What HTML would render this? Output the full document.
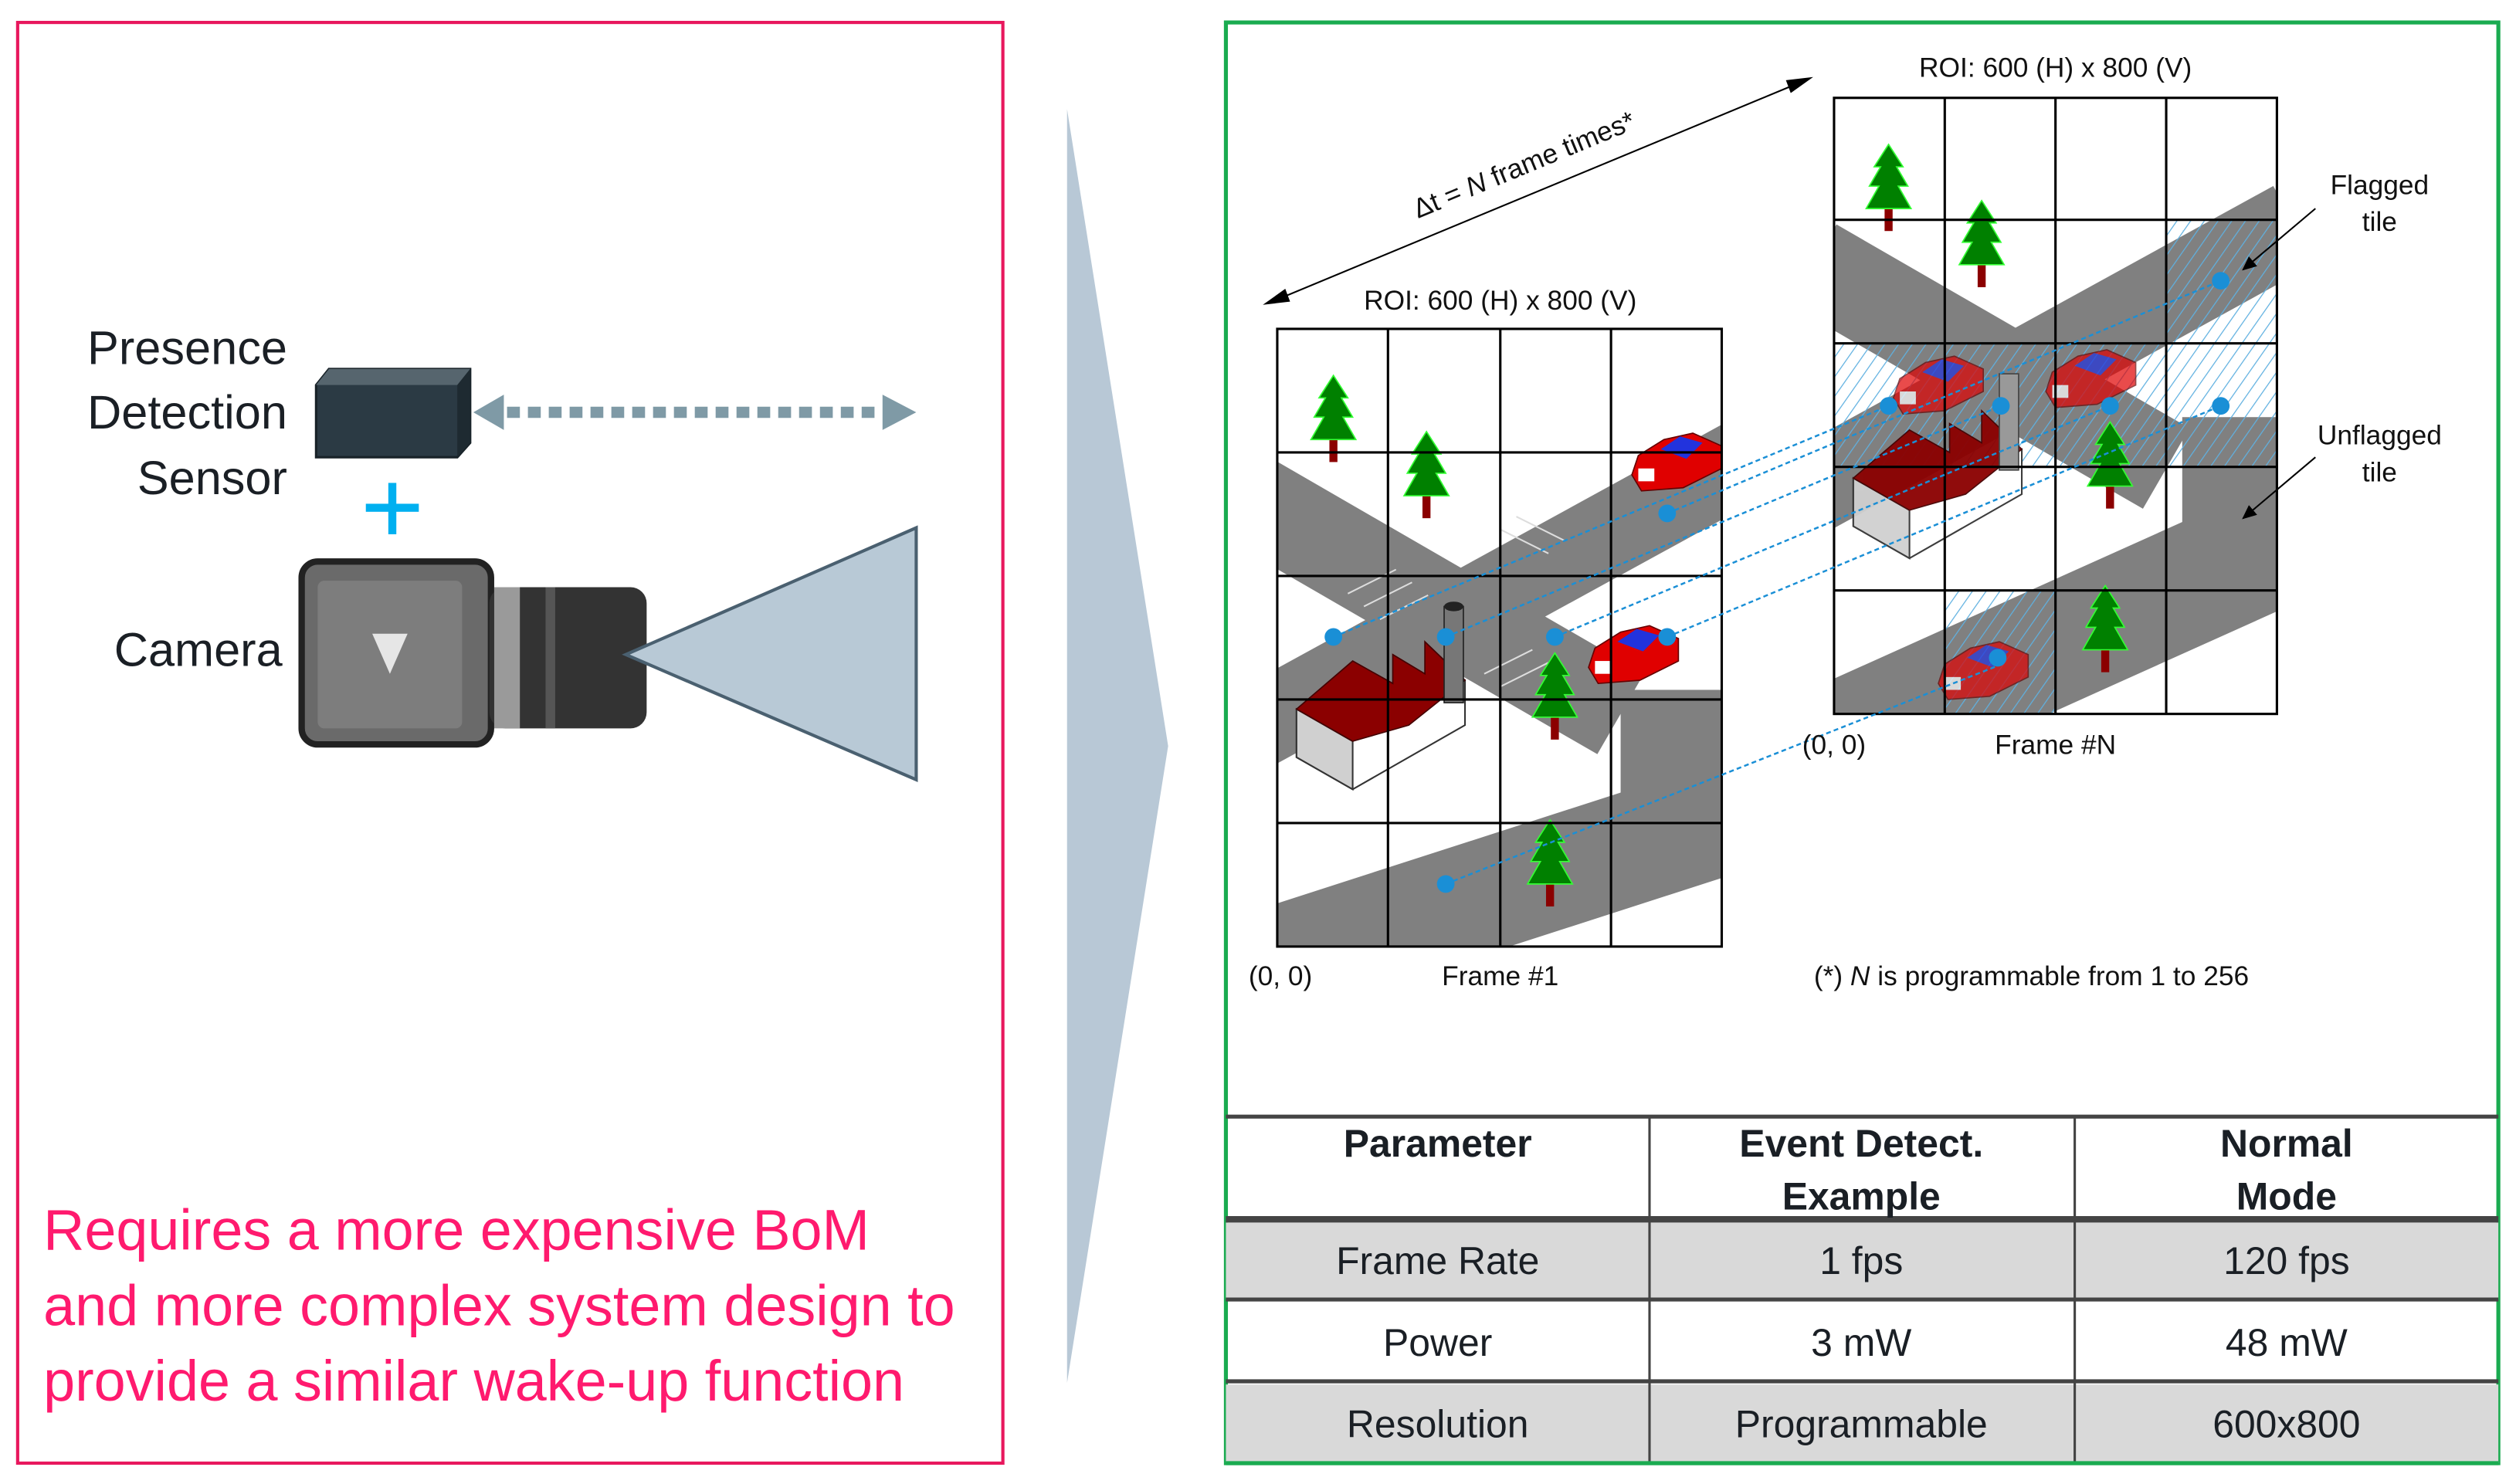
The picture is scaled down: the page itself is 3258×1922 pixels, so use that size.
<!DOCTYPE html>
<html><head><meta charset="utf-8"><style>
html,body{margin:0;padding:0;background:#fff;}
svg{display:block;}
text{font-family:"Liberation Sans",Arial,sans-serif;}
</style></head><body>
<svg width="3258" height="1922" viewBox="0 0 1568 925" preserveAspectRatio="none" xmlns="http://www.w3.org/2000/svg">
<defs>
<pattern id="hatch" width="7" height="7" patternUnits="userSpaceOnUse" patternTransform="rotate(35)">
<line x1="0" y1="0" x2="0" y2="7" stroke="#5fb0e0" stroke-width="1.2"/>
</pattern>
<clipPath id="c1"><rect x="796" y="205" width="277" height="385"/></clipPath>
<clipPath id="cN"><rect x="1143" y="61" width="276" height="384"/></clipPath>
<marker id="ah" markerWidth="10" markerHeight="10" refX="8" refY="5" orient="auto" markerUnits="userSpaceOnUse"><path d="M0,1 L9,5 L0,9 z" fill="#000"/></marker>
<g id="tree"><rect x="-2.5" y="0" width="5" height="16" fill="#8b0000"/><path d="M0,-38 L-9,-24 L-5,-24 L-12,-12 L-6,-12 L-14,2 L14,2 L6,-12 L12,-12 L5,-24 L9,-24 z" fill="#008000" stroke="#33ff33" stroke-width="0.8"/></g>
<g id="car"><path d="M-28,6 L-24,-6 L-8,-16 L10,-20 L28,-12 L28,2 L4,14 L-22,16 z" fill="#e00000" stroke="#600" stroke-width="0.8"/><path d="M-10,-10 L2,-18 L16,-14 L6,-4 z" fill="#2233dd"/><rect x="-24" y="2" width="10" height="8" fill="#fff"/></g>
<g id="house"><path d="M0,30 L0,60 L35,80 L105,40 L105,12 z" fill="#fff" stroke="#333" stroke-width="1"/><path d="M0,30 L0,60 L35,80 L35,50 z" fill="#d0d0d0" stroke="#333" stroke-width="1"/><path d="M0,30 L35,0 L60,14 L60,-4 L80,8 L80,-12 L105,12 L70,40 L35,50 z" fill="#8b0000" stroke="#400" stroke-width="0.8"/></g>
</defs>

<!-- LEFT PANEL -->
<rect x="11" y="14" width="614" height="898" fill="none" stroke="#e8175d" stroke-width="2"/>
<g font-size="29.5" fill="#1a1f25" text-anchor="end">
<text x="179" y="227">Presence</text>
<text x="179" y="267">Detection</text>
<text x="179" y="308">Sensor</text>
<text x="176" y="415">Camera</text>
</g>
<path d="M197,240 L205,230 L293,230 L293,276 L285,285 L197,285 z" fill="#2b3a44" stroke="#182228" stroke-width="1.5"/>
<path d="M197,240 L205,230 L293,230 L285,240 z" fill="#56656e"/>
<path d="M285,240 L293,230 L293,276 L285,285 z" fill="#1e2a31"/>
<line x1="316" y1="257" x2="550" y2="257" stroke="#7f9aa6" stroke-width="7" stroke-dasharray="8,5"/>
<path d="M295,257 L314,246 L314,268 z" fill="#7f9aa6"/>
<path d="M571,257 L550,246 L550,268 z" fill="#7f9aa6"/>
<rect x="242" y="301" width="5" height="32" fill="#00b0f0"/>
<rect x="228" y="314" width="33" height="5" fill="#00b0f0"/>
<!-- camera -->
<rect x="188" y="350" width="118" height="114" rx="10" fill="#6a6a6a" stroke="#222" stroke-width="4"/>
<rect x="198" y="362" width="90" height="92" rx="4" fill="#7d7d7d"/>
<path d="M232,395 L254,395 L243,420 z" fill="#e6e6e6"/>
<rect x="305" y="366" width="98" height="88" rx="10" fill="#333"/>
<rect x="308" y="366" width="16" height="88" fill="#9a9a9a"/>
<rect x="340" y="366" width="6" height="88" fill="#555"/>
<path d="M390,408 L571,329 L571,486 z" fill="#b8c9d6" stroke="#4a6070" stroke-width="2"/>
<g font-size="35.5" fill="#ff1a6e">
<text x="27" y="779">Requires a more expensive BoM</text>
<text x="27" y="826">and more complex system design to</text>
<text x="27" y="873">provide a similar wake-up function</text>
</g>

<!-- chevron -->
<path d="M665,68 L728,465 L665,862 z" fill="#b8c8d6"/>

<!-- RIGHT PANEL -->
<rect x="764" y="14" width="793" height="898" fill="none" stroke="#1aab50" stroke-width="2.5"/>

<!-- Frame 1 -->
<g clip-path="url(#c1)">
<rect x="796" y="205" width="277" height="385" fill="#fff"/>
<g stroke="#808080" fill="none">
<line x1="780" y1="312" x2="1010" y2="445" stroke-width="58"/>
<line x1="1090" y1="285" x2="780" y2="455" stroke-width="52"/>
<line x1="1090" y1="505" x2="780" y2="605" stroke-width="70"/>
</g>
<rect x="1010" y="430" width="63" height="90" fill="#808080"/>
<g stroke="#ddd" stroke-width="1" fill="none">
<path d="M840,370 l30,-15 M850,378 l30,-15 M860,386 l30,-15 M935,330 l30,15 M945,322 l30,15 M925,420 l30,-15 M935,428 l30,-15"/>
</g>
<use href="#tree" x="831" y="272"/>
<use href="#tree" x="889" y="307"/>
<use href="#tree" x="969" y="445"/>
<use href="#tree" x="966" y="549"/>
<use href="#car" x="1045" y="290"/>
<use href="#car" x="1018" y="410"/>
<use href="#house" x="808" y="412"/>
<rect x="900" y="378" width="12" height="60" fill="#777" stroke="#222" stroke-width="0.8"/>
<ellipse cx="906" cy="378" rx="6" ry="3" fill="#222"/>
</g>
<g stroke="#000" stroke-width="1.5" fill="none">
<rect x="796" y="205" width="277" height="385"/>
<line x1="865" y1="205" x2="865" y2="590"/><line x1="935" y1="205" x2="935" y2="590"/><line x1="1004" y1="205" x2="1004" y2="590"/>
<line x1="796" y1="282" x2="1073" y2="282"/><line x1="796" y1="359" x2="1073" y2="359"/><line x1="796" y1="436" x2="1073" y2="436"/><line x1="796" y1="513" x2="1073" y2="513"/>
</g>

<!-- Frame N -->
<g clip-path="url(#cN)">
<rect x="1143" y="61" width="276" height="384" fill="#fff"/>
<g stroke="#808080" fill="none">
<line x1="1130" y1="165" x2="1350" y2="292" stroke-width="58"/>
<line x1="1430" y1="140" x2="1130" y2="305" stroke-width="55"/>
<line x1="1430" y1="335" x2="1130" y2="470" stroke-width="75"/>
</g>
<rect x="1360" y="260" width="59" height="80" fill="#808080"/>
<rect x="1143" y="214" width="276" height="77" fill="url(#hatch)" fill-opacity="1"/>
<rect x="1350" y="137" width="69" height="77" fill="url(#hatch)"/>
<rect x="1212" y="368" width="69" height="77" fill="url(#hatch)"/>
<use href="#tree" x="1177" y="128"/>
<use href="#tree" x="1235" y="163"/>
<use href="#tree" x="1315" y="301"/>
<use href="#tree" x="1312" y="403"/>
<use href="#car" x="1208" y="242" opacity="0.7"/>
<use href="#car" x="1303" y="238" opacity="0.7"/>
<use href="#car" x="1236" y="420" opacity="0.7"/>
<use href="#house" x="1155" y="268" opacity="0.95"/>
<rect x="1246" y="233" width="12" height="60" fill="#999" stroke="#444" stroke-width="0.8"/>
</g>
<g stroke="#000" stroke-width="1.5" fill="none">
<rect x="1143" y="61" width="276" height="384"/>
<line x1="1212" y1="61" x2="1212" y2="445"/><line x1="1281" y1="61" x2="1281" y2="445"/><line x1="1350" y1="61" x2="1350" y2="445"/>
<line x1="1143" y1="137" x2="1419" y2="137"/><line x1="1143" y1="214" x2="1419" y2="214"/><line x1="1143" y1="291" x2="1419" y2="291"/><line x1="1143" y1="368" x2="1419" y2="368"/>
</g>

<!-- blue connectors -->
<g stroke="#1a8fd6" stroke-width="1.2" fill="none">
<line x1="831" y1="397" x2="1177" y2="253" stroke-dasharray="3,2"/>
<line x1="901" y1="397" x2="1247" y2="253" stroke-dasharray="3,2"/>
<line x1="969" y1="397" x2="1315" y2="253" stroke-dasharray="3,2"/>
<line x1="1039" y1="397" x2="1384" y2="253" stroke-dasharray="3,2"/>
<line x1="1039" y1="320" x2="1384" y2="175" stroke-dasharray="3,2"/>
<line x1="901" y1="551" x2="1245" y2="415" stroke-dasharray="3,2"/>
</g>
<g fill="#1a8fd6">
<circle cx="831" cy="397" r="5.5"/><circle cx="901" cy="397" r="5.5"/><circle cx="969" cy="397" r="5.5"/><circle cx="1039" cy="397" r="5.5"/><circle cx="1039" cy="320" r="5.5"/><circle cx="901" cy="551" r="5.5"/>
<circle cx="1177" cy="253" r="5.5"/><circle cx="1247" cy="253" r="5.5"/><circle cx="1315" cy="253" r="5.5"/><circle cx="1384" cy="253" r="5.5"/><circle cx="1384" cy="175" r="5.5"/><circle cx="1245" cy="410" r="5.5"/>
</g>

<!-- labels -->
<g font-size="17" fill="#111" text-anchor="middle">
<text x="935" y="193">ROI: 600 (H) x 800 (V)</text>
<text x="1281" y="48">ROI: 600 (H) x 800 (V)</text>
<text x="798" y="614">(0, 0)</text>
<text x="935" y="614">Frame #1</text>
<text x="1143" y="470">(0, 0)</text>
<text x="1281" y="470">Frame #N</text>
<text x="1483" y="121">Flagged</text>
<text x="1483" y="144">tile</text>
<text x="1483" y="277">Unflagged</text>
<text x="1483" y="300">tile</text>
<text x="1266" y="614">(*) <tspan font-style="italic">N</tspan> is programmable from 1 to 256</text>
<text x="952" y="108" transform="rotate(-22.5 952 108)">Δt = <tspan font-style="italic">N</tspan> frame times*</text>
</g>
<line x1="1443" y1="130" x2="1398" y2="168" stroke="#000" stroke-width="1" marker-end="url(#ah)"/>
<line x1="1443" y1="285" x2="1398" y2="323" stroke="#000" stroke-width="1" marker-end="url(#ah)"/>
<line x1="800" y1="185" x2="1118" y2="53" stroke="#000" stroke-width="1"/>
<path d="M787,190 L801,180 L804,188 z" fill="#000"/>
<path d="M1130,48 L1116,58 L1113,50 z" fill="#000"/>

<!-- table -->
<rect x="764" y="762" width="793" height="48" fill="#d9d9d9"/>
<rect x="764" y="863" width="793" height="49" fill="#d9d9d9"/>
<g stroke="#444" fill="none">
<line x1="764" y1="696" x2="1557" y2="696" stroke-width="2.5"/>
<line x1="764" y1="760" x2="1557" y2="760" stroke-width="4"/>
<line x1="764" y1="810" x2="1557" y2="810" stroke-width="2.5"/>
<line x1="764" y1="861" x2="1557" y2="861" stroke-width="2.5"/>
<line x1="1028" y1="696" x2="1028" y2="912" stroke-width="1.5"/>
<line x1="1293" y1="696" x2="1293" y2="912" stroke-width="1.5"/>
</g>
<line x1="764" y1="912" x2="1557" y2="912" stroke="#1aab50" stroke-width="2.5"/>
<g font-size="24" fill="#1a1f25" text-anchor="middle">
<g font-weight="bold">
<text x="896" y="721">Parameter</text>
<text x="1160" y="721">Event Detect.</text>
<text x="1160" y="754">Example</text>
<text x="1425" y="721">Normal</text>
<text x="1425" y="754">Mode</text>
</g>
<text x="896" y="794">Frame Rate</text><text x="1160" y="794">1 fps</text><text x="1425" y="794">120 fps</text>
<text x="896" y="845">Power</text><text x="1160" y="845">3 mW</text><text x="1425" y="845">48 mW</text>
<text x="896" y="896">Resolution</text><text x="1160" y="896">Programmable</text><text x="1425" y="896">600x800</text>
</g>
</svg>
</body></html>
